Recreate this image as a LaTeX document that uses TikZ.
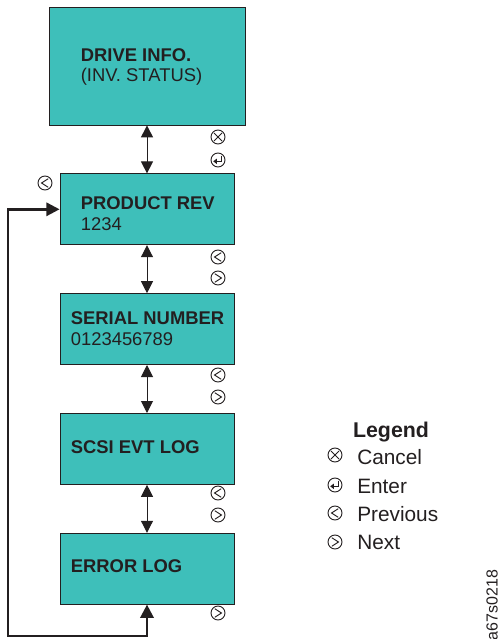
\documentclass[tikz,border=0pt]{standalone}
\usepackage{fontspec}
\setmainfont{Liberation Sans}
\usetikzlibrary{positioning,calc,arrows.meta}
\definecolor{panel}{RGB}{62,191,186}
\definecolor{ink}{RGB}{35,31,32}
\tikzset{
  menu/.style   ={rectangle, draw=ink, line width=0.6pt, fill=panel, minimum width=130.5pt, minimum height=53.25pt, inner sep=0pt},
  menubig/.style={menu, minimum width=147pt, minimum height=88.5pt},
  hd/.style     ={anchor=base west, inner sep=0pt, text=ink, font=\fontsize{13.8}{16}\selectfont\bfseries},
  sub/.style    ={anchor=base west, inner sep=0pt, text=ink, font=\fontsize{13.8}{16}\selectfont},
  leghd/.style  ={anchor=base, inner sep=0pt, text=ink, font=\fontsize{16}{19}\selectfont\bfseries},
  legtx/.style  ={anchor=base west, inner sep=0pt, text=ink, font=\fontsize{15.6}{19}\selectfont},
  idtxt/.style  ={inner sep=0pt, text=ink, font=\fontsize{12}{14}\selectfont},
  key/.style    ={circle, draw=ink, line width=0.7pt, minimum size=10.5pt, inner sep=0pt},
  xkey/.style   ={key, path picture={\draw[ink, line width=0.7pt]
      ([shift={(-3pt,-3pt)}]path picture bounding box.center) -- ++(6pt,6pt)
      ([shift={(-3pt,3pt)}]path picture bounding box.center) -- ++(6pt,-6pt);}},
  pkey/.style   ={key, path picture={\draw[ink, line width=0.7pt]
      ([shift={(2.4pt,3.2pt)}]path picture bounding box.center) -- ++(-5pt,-3.2pt) -- ++(5pt,-3.2pt);}},
  nkey/.style   ={key, path picture={\draw[ink, line width=0.7pt]
      ([shift={(-2.4pt,3.2pt)}]path picture bounding box.center) -- ++(5pt,-3.2pt) -- ++(-5pt,-3.2pt);}},
  ekey/.style   ={key, path picture={\draw[ink, line width=0.7pt]
      ([shift={(2.5pt,3.2pt)}]path picture bounding box.center) -- ++(0,-4.2pt) -- ++(-3pt,0);
      \fill[ink] ([shift={(-3.6pt,-1pt)}]path picture bounding box.center) -- ++(2.8pt,2.1pt) -- ++(0,-4.2pt) -- cycle;}},
  dbl/.style    ={{Triangle[length=9pt,width=9pt]}-{Triangle[length=9pt,width=9pt]}, line width=0.75pt, draw=ink},
  wrap/.style   ={{Triangle[length=10pt,width=10pt]}-{Triangle[length=10pt,width=10pt]}, line width=1.8pt, draw=ink},
}

\begin{document}
\begin{tikzpicture}[x=0.75pt, y=-0.75pt, node distance=36pt]
\useasboundingbox (0,0) rectangle (500,639);
% menu boxes
\node[menubig] (drive) at (147,66) {};
\node[menu, below=of drive]   (product) {};
\node[menu, below=of product] (serial)  {};
\node[menu, below=of serial]  (scsi)    {};
\node[menu, below=of scsi]    (error)   {};
\node[hd]  (drivehd)   at ($(drive.north west)+(32,55)$)   {DRIVE INFO.};
\node[sub] (drivesub)  at ($(drive.north west)+(32,75)$)   {(INV. STATUS)};
\node[hd]  (producthd) at ($(product.north west)+(21,36)$) {PRODUCT REV};
\node[sub] (productsub) at ($(product.north west)+(21,57)$) {1234};
\node[hd]  (serialhd)  at ($(serial.north west)+(11,31)$)  {SERIAL NUMBER};
\node[sub] (serialsub) at ($(serial.north west)+(11,52)$)  {0123456789};
\node[hd]  (scsihd)    at ($(scsi.north west)+(11,40)$)    {SCSI EVT LOG};
\node[hd]  (errorhd)   at ($(error.north west)+(11,40)$)   {ERROR LOG};
% connectors
\draw[dbl] (drive) -- (product);
\draw[dbl] (product) -- (serial);
\draw[dbl] (serial) -- (scsi);
\draw[dbl] (scsi) -- (error);
\coordinate (loopbl) at (8,636);
\draw[wrap, line join=miter] (error.south) |- (loopbl) |- (product.west);
% keys
\node[xkey] (kcancel) at (218,137) {};
\node[ekey] (kenter)  at (218,160) {};
\node[pkey] (kprev0)  at (45,183)  {};
\node[pkey] (kprev1)  at (218,257) {};
\node[nkey] (knext1)  at (218,278) {};
\node[pkey] (kprev2)  at (218,375) {};
\node[nkey] (knext2)  at (218,397) {};
\node[pkey] (kprev3)  at (218,493) {};
\node[nkey] (knext3)  at (218,515) {};
\node[nkey] (knext4)  at (218,613) {};
% legend
\node[leghd] (legend) at (391,437) {Legend};
\node[xkey] (lgcancel) at (335,455) {};
\node[legtx] (lgcanceltx) at (357,464) {Cancel};
\node[ekey] (lgenter) at (335,485) {};
\node[legtx] (lgentertx) at (357,493) {Enter};
\node[pkey] (lgprev) at (335,513) {};
\node[legtx] (lgprevtx) at (357,521) {Previous};
\node[nkey] (lgnext) at (335,542) {};
\node[legtx] (lgnexttx) at (357,549) {Next};
\node[idtxt, rotate=90] (figid) at (492,605) {a67s0218};
\end{tikzpicture}
\end{document}
